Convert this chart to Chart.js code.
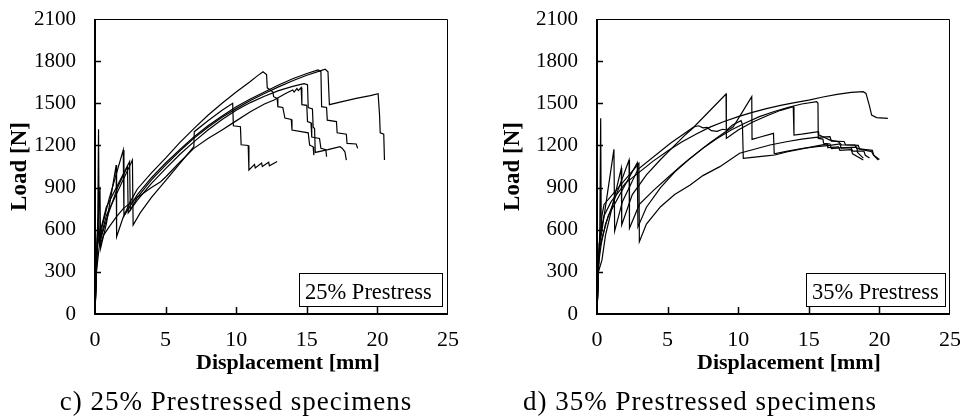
<!DOCTYPE html>
<html>
<head>
<meta charset="utf-8">
<script src="https://cdn.jsdelivr.net/npm/chart.js@4.4.0/dist/chart.umd.min.js"></script>
<style>
  body { margin: 0; background: #fff; width: 960px; height: 419px; position: relative; overflow: hidden; }
  canvas { position: absolute; top: 0; }
  #c25 { left: 0; }
  #c35 { left: 480px; }
  .cap { position: absolute; top: 388px; font-family: "Liberation Serif", serif; font-size: 27px; line-height: 27px;
         letter-spacing: 1px; color: #000; white-space: nowrap; transform: translateX(-50%); }
</style>
</head>
<body>
<canvas id="c25" width="480" height="419" style="width:480px;height:419px"></canvas>
<canvas id="c35" width="480" height="419" style="width:480px;height:419px"></canvas>
<div class="cap" style="left:236px">c) 25% Prestressed specimens</div>
<div class="cap" style="left:700px">d) 35% Prestressed specimens</div>
<script>
// axis ticks
const xTicks = [0, 5, 10, 15, 20, 25];
const yTicks = [0, 300, 600, 900, 1200, 1500, 1800, 2100];

// 25% prestress specimens: [displacement mm, load N]
const spec25a = [[0,0],[0.1,300],[0.2,700],[0.25,1315],[0.3,480],[0.5,620],[1.0,820],[2.0,1167],[2.05,700],[2.5,800],[3,890],[4,1005],[5,1110],[6,1220],[7,1320],[8,1415],[9,1500],[10,1580],[11,1655],[11.5,1695],[11.9,1725],[12.15,1705],[12.2,1610],[12.6,1580],[12.65,1547],[12.9,1535],[12.95,1476],[13.3,1470],[13.45,1395],[13.9,1385],[13.95,1310],[15.1,1290],[15.2,1203],[15.45,1190],[15.5,1130]];
const spec25b = [[0,0],[0.15,500],[0.35,906],[0.4,470],[0.8,640],[1.5,1060],[1.53,550],[2,690],[3,850],[4,970],[5,1075],[6,1170],[7,1260],[8,1340],[9,1410],[10,1475],[11,1530],[12,1580],[13,1630],[14,1675],[15,1712],[15.8,1737],[16.0,1725],[16.05,1476],[16.4,1470],[16.45,1380],[17.1,1370],[17.15,1290],[17.8,1280],[17.85,1215],[18.5,1210],[18.6,1179]];
const spec25c = [[0,0],[0.1,400],[0.2,650],[0.3,560],[0.8,760],[2.45,1084],[2.5,740],[3,830],[4,955],[5,1060],[6,1160],[7,1250],[8,1330],[9,1400],[10,1462],[11,1520],[12,1570],[13,1617],[14,1660],[15,1700],[16,1732],[16.3,1742],[16.5,1725],[16.6,1490],[17.5,1512],[18.5,1535],[19.5,1555],[20.05,1568],[20.15,1420],[20.2,1290],[20.45,1280],[20.5,1096]];
const spec25d = [[0,0],[0.15,450],[0.25,620],[0.35,520],[0.8,700],[2.65,1096],[2.7,633],[3.2,720],[4,830],[5,950],[6,1070],[7,1191],[7.03,1298],[8,1375],[9,1450],[9.75,1500],[9.8,1340],[10.3,1333],[10.35,1205],[10.85,1200],[10.9,1025],[11.3,1065],[11.35,1040],[11.8,1075],[11.85,1050],[12.3,1080],[12.35,1055],[12.9,1085]];
const spec25e = [[0,0],[0.1,350],[0.2,560],[0.3,500],[1,730],[1.6,900],[2.3,1050],[2.35,720],[3,810],[4,930],[5,1035],[6,1135],[7,1225],[8,1310],[9,1385],[10,1450],[11,1505],[12,1550],[13,1590],[14,1620],[14.8,1640],[15.05,1632],[15.1,1470],[15.4,1460],[15.45,1330],[15.55,1320],[15.6,1150],[16.5,1170],[17.35,1191],[17.5,1180],[17.7,1155],[17.8,1096]];
const spec25f = [[0,0],[0.1,300],[0.3,480],[0.6,560],[1.0,620],[1.5,690],[2.0,750],[3.0,830],[4,900],[4.65,942],[5,975],[6,1080],[7,1179],[8,1250],[9,1310],[9.72,1357],[11,1440],[12,1495],[12.68,1523],[13.5,1570],[14,1595],[14.1,1580],[14.3,1605],[14.4,1590],[14.6,1612],[14.65,1490],[15.0,1485],[15.05,1370],[15.3,1360],[15.35,1260],[15.9,1250],[16.0,1180],[16.35,1170],[16.4,1120]];

// 35% prestress specimens
const spec35a = [[0,0],[0.2,600],[0.26,1393],[0.3,600],[0.5,700],[1,800],[2,930],[3,1010],[4,1090],[5,1160],[6,1225],[7,1280],[8,1330],[9,1370],[10,1405],[11,1435],[12,1462],[13,1485],[14,1505],[15,1522],[16,1545],[17,1563],[18,1577],[18.85,1583],[19.05,1570],[19.3,1480],[19.45,1416],[19.8,1398],[20.6,1393]];
const spec35b = [[0,0],[0.15,500],[0.3,560],[1.2,1172],[1.25,590],[1.8,800],[2.9,1030],[5.2,1215],[6.9,1335],[9.14,1566],[9.16,1250],[9.5,1275],[10,1310],[11,1365],[12,1410],[13,1450],[13.9,1476],[13.95,1274],[14.5,1280],[15.67,1298],[15.7,1275],[16,1262],[16.5,1238],[17.07,1227],[17.33,1203],[18.27,1203],[18.4,1179],[19.45,1155],[19.57,1132],[19.92,1096]];
const spec35c = [[0,0],[0.1,350],[0.3,500],[0.6,640],[2.27,1096],[2.3,610],[3,780],[4,880],[5,970],[6,1060],[7,1140],[8,1220],[9,1290],[9.65,1333],[10.96,1547],[10.98,1243],[11.5,1258],[12.5,1286],[12.55,1140],[13.5,1160],[14.5,1178],[15.56,1191],[16.5,1200],[17.2,1210],[17.3,1180],[18,1185],[18.1,1160],[18.9,1160],[19.0,1130],[19.3,1110]];
const spec35d = [[0,0],[0.1,300],[0.35,384],[0.6,560],[1.72,1037],[1.75,634],[2.5,850],[3.5,990],[4.5,1100],[5.5,1200],[6.3,1280],[6.9,1333],[7.2,1340],[7.5,1325],[7.8,1328],[8.1,1305],[8.5,1300],[8.9,1315],[9.2,1310],[9.6,1345],[10.2,1376],[10.3,1350],[10.36,1108],[11,1115],[12,1125],[12.6,1132],[13.5,1155],[14.5,1175],[15.5,1195],[16.3,1210],[16.35,1185],[17.1,1190],[17.2,1165],[18,1170],[18.1,1140],[18.86,1096]];
const spec35e = [[0,0],[0.15,450],[0.3,520],[0.8,700],[2.85,1077],[2.9,620],[3.5,760],[4.5,900],[5.5,1010],[6.5,1100],[7.5,1180],[8.5,1250],[9.5,1310],[10.5,1360],[11.5,1405],[12.5,1440],[13.5,1470],[14.5,1495],[15.56,1512],[15.65,1500],[15.67,1250],[16,1245],[16.05,1215],[16.5,1210],[16.6,1178],[17.2,1182],[18.4,1188],[18.45,1150],[18.86,1110]];
const spec35f = [[0,0],[0.12,400],[0.35,700],[0.5,780],[2.97,1072],[3.0,515],[3.5,640],[4.5,764],[5.5,850],[6.6,918],[7.5,985],[8.7,1049],[10.1,1144],[12.25,1203],[13.5,1228],[14.5,1245],[15.5,1258],[16.5,1262],[16.6,1230],[17.5,1228],[17.6,1205],[18.5,1200],[18.6,1175],[19.5,1165],[19.6,1130],[20.0,1100]];

const FONT = '"Liberation Serif", serif';

// border, inward tick marks, x title and the boxed label
function framePlugin(label, boxX, boxW, titleX) {
  return {
    id: 'frame',
    afterDraw(chart) {
      const { ctx, chartArea: a, scales: { x, y } } = chart;
      ctx.save();
      ctx.strokeStyle = '#000';
      ctx.lineWidth = 1;
      ctx.beginPath();
      ctx.moveTo(a.left, a.top + 0.5); ctx.lineTo(a.right - 0.5, a.top + 0.5); ctx.lineTo(a.right - 0.5, a.bottom);
      ctx.stroke();
      ctx.lineWidth = 2;
      ctx.beginPath();
      ctx.moveTo(a.left, a.top); ctx.lineTo(a.left, a.bottom); ctx.lineTo(a.right, a.bottom);
      ctx.stroke();
      ctx.lineWidth = 1.5;
      ctx.beginPath();
      yTicks.slice(1, -1).forEach(v => {
        const py = Math.round(y.getPixelForValue(v)) + 0.5;
        ctx.moveTo(a.left, py); ctx.lineTo(a.left + 6, py);
      });
      xTicks.slice(1, -1).forEach(v => {
        const px = Math.round(x.getPixelForValue(v)) + 0.5;
        ctx.moveTo(px, a.bottom); ctx.lineTo(px, a.bottom - 7);
      });
      ctx.stroke();

      ctx.fillStyle = '#000';
      ctx.font = 'bold 22px ' + FONT;
      ctx.textAlign = 'center';
      ctx.textBaseline = 'alphabetic';
      ctx.fillText('Displacement [mm]', titleX, 369);

      ctx.lineWidth = 1;
      ctx.fillStyle = '#fff';
      ctx.fillRect(boxX, 273, boxW, 33);
      ctx.strokeRect(boxX + 0.5, 273.5, boxW, 33);
      ctx.fillStyle = '#000';
      ctx.font = '22.5px ' + FONT;
      ctx.textAlign = 'left';
      ctx.fillText(label, boxX + 6, 299);
      ctx.restore();
    }
  };
}

function makeChart(id, curves, o) {
  return new Chart(document.getElementById(id), {
    type: 'scatter',
    data: {
      datasets: curves.map(c => ({
        data: c.map(p => ({ x: p[0], y: p[1] })),
        showLine: true,
        borderColor: '#000',
        borderWidth: 1.2,
        pointRadius: 0,
        tension: 0
      }))
    },
    options: {
      responsive: false,
      animation: false,
      layout: { padding: { top: 19, right: o.right, bottom: 45, left: 0 } },
      plugins: { legend: { display: false }, tooltip: { enabled: false } },
      scales: {
        x: {
          type: 'linear', min: 0, max: 25,
          afterBuildTicks: s => { s.ticks = xTicks.map(v => ({ value: v })); },
          ticks: { font: { family: FONT, size: 22 }, color: '#000', padding: 13, maxRotation: 0,
                   callback: v => String(v) },
          grid: { display: false, drawTicks: false },
          border: { display: false },
          afterFit: s => { s.height = 60; s.paddingLeft = 0; s.paddingRight = 0; }
        },
        y: {
          type: 'linear', min: 0, max: 2100,
          afterBuildTicks: s => { s.ticks = yTicks.map(v => ({ value: v })); },
          ticks: { font: { family: FONT, size: 21 }, color: '#000', padding: 19,
                   callback: v => String(v) },
          grid: { display: false, drawTicks: false },
          border: { display: false },
          title: {
            display: true, text: 'Load [N]', color: '#000',
            font: { family: FONT, size: 23, weight: 'bold', lineHeight: 1 },
            padding: { top: o.titlePad, bottom: 0 }
          },
          afterFit: s => { s.width = o.yw; s.paddingTop = 0; s.paddingBottom = 0; }
        }
      }
    },
    plugins: [framePlugin(o.label, o.boxX, o.boxW, o.titleX)]
  });
}

makeChart('c25', [spec25a, spec25b, spec25c, spec25d, spec25e, spec25f],
  { right: 32, yw: 95, titlePad: 8.5, label: '25% Prestress', boxX: 299, boxW: 143, titleX: 288 });
makeChart('c35', [spec35a, spec35b, spec35c, spec35d, spec35e, spec35f],
  { right: 10, yw: 117, titlePad: 22, label: '35% Prestress', boxX: 326, boxW: 139, titleX: 309 });
</script>
</body>
</html>
